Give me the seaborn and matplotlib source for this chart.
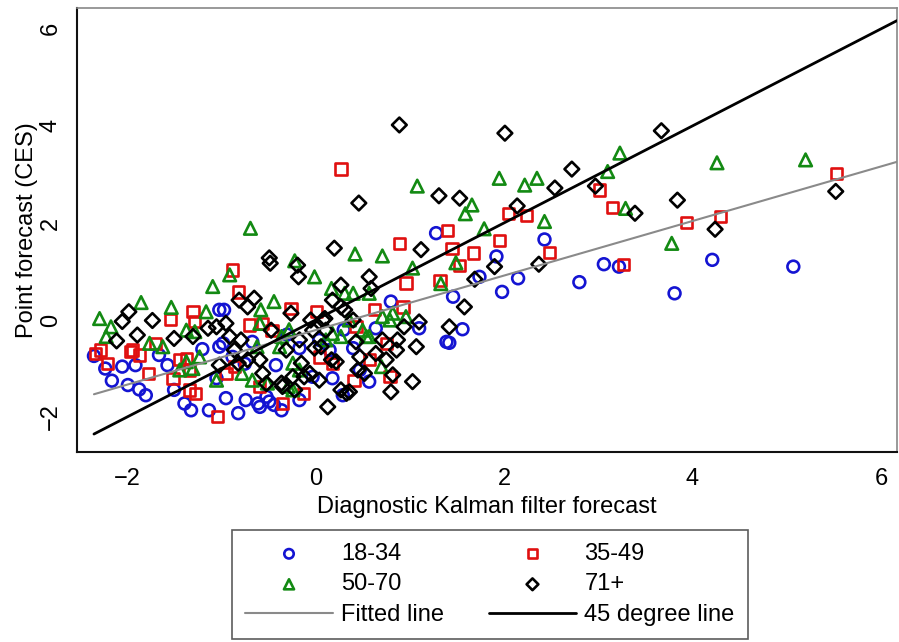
import matplotlib
matplotlib.use("Agg")
import matplotlib.pyplot as plt
import seaborn as sns
import numpy as np

# ---------------- data ----------------
x_18_34 = [-2.35, -2.23, -2.16, -2.05, -1.99, -1.87, -1.80, -1.91, -1.66, -1.57, -1.50, -1.39,
           -1.32, -1.13, -0.95, -0.82, -0.74, -0.61, -0.52, -0.44, -0.36, -0.17, -1.05, -0.97,
           -0.98, -0.88, -0.67, -0.42, 0.04, 0.18, 0.29, 0.57, 0.64, 0.80, 1.10, 1.39, 0.40,
           0.47, 0.15, -0.17, -0.03, 1.28, 1.46, 1.56, 1.42, 2.43, 1.92, 2.15, 1.98, 2.80, 3.06,
           3.22, 3.81, 4.21, 5.07, 1.74, -0.59, -0.49, -1.02, -1.02, -0.30, 0.30, -1.20, -0.75]
y_18_34 = [-0.74, -1.00, -1.25, -0.96, -1.34, -1.43, -1.55, -0.93, -0.72, -0.93, -1.44, -1.72,
           -1.86, -1.86, -1.61, -1.92, -1.65, -1.72, -1.58, -1.75, -1.86, -1.65, -1.20, 0.21,
           -0.48, -0.76, -0.45, -0.93, -0.41, -1.20, -1.55, -1.27, -0.17, 0.38, -0.17, -0.45, -0.58,
           -1.03, -0.62, -0.58, -1.17, 1.79, 0.48, -0.19, -0.47, 1.66, 1.31, 0.86, 0.58, 0.78, 1.15,
           1.10, 0.55, 1.24, 1.10, 0.89, -1.79, -1.68, 0.21, -0.55, -0.30, -0.20, -0.60, -0.90]

x_35_49 = [-2.33, -2.21, -1.96, -1.87, -1.77, -1.54, -1.30, -1.51, -1.34, -1.27, -1.04, -1.37,
           -0.88, -0.82, -0.26, 0.01, 0.89, 0.96, 1.32, 0.63, 0.93, 0.43, 0.75, 0.57, -0.35,
           -0.59, -0.70, -0.56, -0.95, -0.13, 0.04, 0.18, 0.27, 1.40, 1.45, 1.68, 2.05, 2.24,
           1.95, 2.48, 3.01, 3.15, 3.94, 4.30, 5.53, 3.27, 1.53, -2.28, -1.94, -1.28, -1.70,
           -1.34, -1.44, -0.46, -0.86, 0.79, 0.41]
y_35_49 = [-0.69, -0.89, -0.65, -0.72, -1.10, 0.01, 0.17, -1.20, -1.44, -1.51, -1.99, -0.79,
           1.03, 0.58, 0.24, 0.17, 1.57, 0.76, 0.82, 0.22, 0.27, -0.14, -0.48, -0.82, -1.72,
           -1.37, -0.10, -0.07, -1.10, -1.51, -0.76, -0.89, 3.11, 1.84, 1.48, 1.38, 2.20, 2.15,
           1.64, 1.39, 2.68, 2.32, 2.01, 2.14, 3.02, 1.15, 1.13, -0.62, -0.62, -0.03, -0.48,
           -1.03, -0.82, -0.21, -0.96, -1.17, -1.24]

x_50_70 = [-2.29, -1.85, -1.53, -1.09, -0.91, -0.22, -0.01, 0.42, 0.71, 1.03, 1.33, -0.44,
           -2.17, -2.22, -1.76, -1.62, -0.59, -0.38, -0.24, -0.67, -1.05, 0.11, 0.36, 0.50,
           0.82, 0.96, -1.37, -1.30, -1.23, -0.78, -0.24, -0.28, 0.18, 0.54, -0.69, 1.08, 1.66,
           1.59, 1.79, 1.49, 1.95, 2.22, 2.35, 2.43, 3.23, 3.10, 3.29, 3.78, 4.26, 5.20,
           -1.16, -1.37, -1.28, -1.44, -0.58, 0.17, 0.31, 0.27, -0.62, -0.36, -0.29, -0.17,
           -0.51, 0.40, 0.57, 0.79, 0.71, 0.57, 0.70]
y_50_70 = [0.03, 0.36, 0.26, 0.69, 0.93, 1.22, 0.89, 1.36, 1.32, 1.07, 0.75, 0.38,
           -0.14, -0.34, -0.48, -0.55, -0.07, -0.55, -0.89, -1.24, -1.24, -0.41, 0.00, -0.21,
           0.14, 0.07, -0.86, -1.00, -0.76, -1.10, -1.44, -0.20, -0.28, -0.34, 1.89, 2.76, 2.37,
           2.19, 1.88, 1.18, 2.92, 2.78, 2.92, 2.03, 3.44, 3.06, 2.30, 1.58, 3.24, 3.30,
           0.17, -0.21, -0.24, -1.03, 0.21, 0.65, 0.55, -0.34, -0.55, -0.34, -1.37, -1.03,
           -1.30, 0.55, 0.55, 0.00, 0.07, -0.34, -0.96]

x_71 = [-1.98, -2.05, -1.73, -2.11, -1.89, -1.50, -1.30, -1.14, -0.95, -0.81, -0.65, -0.72,
        -0.48, -0.19, -0.18, 0.20, 1.12, 0.57, 0.59, 0.27, 0.18, 0.31, -0.26, -0.47, -0.91,
        -1.02, -0.82, -0.59, -0.56, -0.35, -0.15, -0.01, 0.04, 0.13, 0.33, 0.45, 0.22, 0.43,
        0.64, 0.80, 0.82, 1.03, 1.07, 0.87, 0.94, 1.10, 1.42, -0.03, -0.17, -0.31, 0.08, 0.11,
        0.40, 0.47, 0.71, -0.52, -0.24, -0.06, 0.46, 1.31, 1.53, -0.49, 0.89, 2.01, 3.67,
        2.72, 2.54, 2.97, 2.14, 3.39, 3.84, 4.24, 5.52, 1.90, 2.37, 1.58, 1.69, -1.05, -0.79,
        -0.05, 0.06, 0.17, 0.27, 0.10, -0.36, -0.22, -0.12, 0.27, -0.72, -0.86, 0.75, 0.86,
        0.52, 0.36]
y_71 = [0.17, -0.03, -0.01, -0.43, -0.31, -0.38, -0.34, -0.17, -0.07, 0.41, 0.45, 0.27,
        1.17, 1.13, 0.89, 1.48, 1.45, 0.89, 0.65, 0.72, 0.41, 0.21, 0.14, -0.21, -0.34,
        -0.93, -0.89, -0.82, -1.10, -1.37, -0.89, -0.58, -1.24, -1.79, -1.51, -1.03, -0.86, -0.45,
        -0.69, -1.48, -1.13, -1.27, -0.55, -0.41, -0.14, -0.04, -0.14, -0.21, -0.41, -0.62, 0.00,
        -0.21, 0.00, -0.76, -0.41, -1.31, -1.17, -1.10, 2.41, 2.56, 2.51, 1.28, 4.02, 3.85, 3.90,
        3.11, 2.72, 2.76, 2.35, 2.20, 2.47, 1.87, 2.65, 1.10, 1.15, 0.27, 0.84, -0.14, -0.41,
        0.00, -0.55, -0.82, 0.27, 0.03, -1.30, -1.44, -1.17, -1.44, -0.82, -0.62, -0.82, -0.62,
        -1.10, -1.48]

line_x = [-2.35, 6.17]
fit_y = [-1.53, 3.26]
deg45_y = [-2.35, 6.17]

groups = ["18-34", "35-49", "50-70", "71+"]
colors = {"18-34": "#1414d2", "35-49": "#e01010", "50-70": "#138a13", "71+": "#000000"}
markers = {"18-34": "o", "35-49": "s", "50-70": "^", "71+": "D"}
sizes = {"18-34": 72, "35-49": 66, "50-70": 82, "71+": 56}
data = {"18-34": (x_18_34, y_18_34), "35-49": (x_35_49, y_35_49),
        "50-70": (x_50_70, y_50_70), "71+": (x_71, y_71)}

# ---------------- figure ----------------
sns.set_style("white")
plt.rcParams["font.family"] = ["Liberation Sans", "DejaVu Sans"]
for k in ["text.color", "axes.labelcolor", "xtick.color", "ytick.color"]:
    plt.rcParams[k] = "black"
FS = 17

fig = plt.figure(figsize=(8.99, 6.42), dpi=100)
ax = fig.add_axes([77 / 899, 1 - 452 / 642, (897 - 77) / 899, (452 - 8) / 642])

handles = {}
for g in groups:
    xs, ys = data[g]
    sns.scatterplot(x=xs, y=ys, ax=ax, marker=markers[g], s=sizes[g],
                    color=colors[g], facecolor="none", edgecolor=colors[g],
                    linewidth=1.9, label=g, zorder=3)
    handles[g] = ax.collections[-1]

sns.lineplot(x=line_x, y=fit_y, ax=ax, color="#8a8a8a", linewidth=1.5,
             label="Fitted line", zorder=4)
sns.lineplot(x=line_x, y=deg45_y, ax=ax, color="#000000", linewidth=2.0,
             label="45 degree line", zorder=5)
line_handles = ax.get_lines()[-2:]
if ax.get_legend() is not None:
    ax.get_legend().remove()

ax.set_xlim(-2.53, 6.17)
ax.set_ylim(-2.72, 6.43)
ax.set_xticks([-2, 0, 2, 4, 6])
ax.set_yticks([-2, 0, 2, 4, 6])
ax.tick_params(axis="both", direction="out", length=6, width=1.1, color="#222222",
               labelsize=FS, pad=5.5)
ax.tick_params(axis="y", pad=5)
for lab in ax.get_yticklabels():
    lab.set_rotation(90)
    lab.set_va("center")

for side in ["left", "bottom"]:
    ax.spines[side].set_color("#111111")
    ax.spines[side].set_linewidth(1.5)
for side in ["top", "right"]:
    ax.spines[side].set_color("#888888")
    ax.spines[side].set_linewidth(1.2)

ax.set_xlabel("Diagnostic Kalman filter forecast", fontsize=FS, labelpad=4.5)
ax.set_ylabel("Point forecast (CES)", fontsize=FS, labelpad=1)

leg_handles = [handles["18-34"], handles["50-70"], line_handles[0],
               handles["35-49"], handles["71+"], line_handles[1]]
leg_labels = ["18-34", "50-70", "Fitted line", "35-49", "71+", "45 degree line"]
leg = fig.legend(leg_handles, leg_labels, ncol=2, loc="upper center",
                 bbox_to_anchor=(490 / 899, 1 - 530 / 642),
                 fontsize=FS, frameon=True, fancybox=False,
                 edgecolor="#333333", handlelength=3.7, handletextpad=0.35,
                 labelspacing=0.36, borderpad=0.55, markerscale=0.8,
                 borderaxespad=0.0, columnspacing=1.9)
leg.get_frame().set_linewidth(1.2)

fig.savefig("out.png", dpi=100)
